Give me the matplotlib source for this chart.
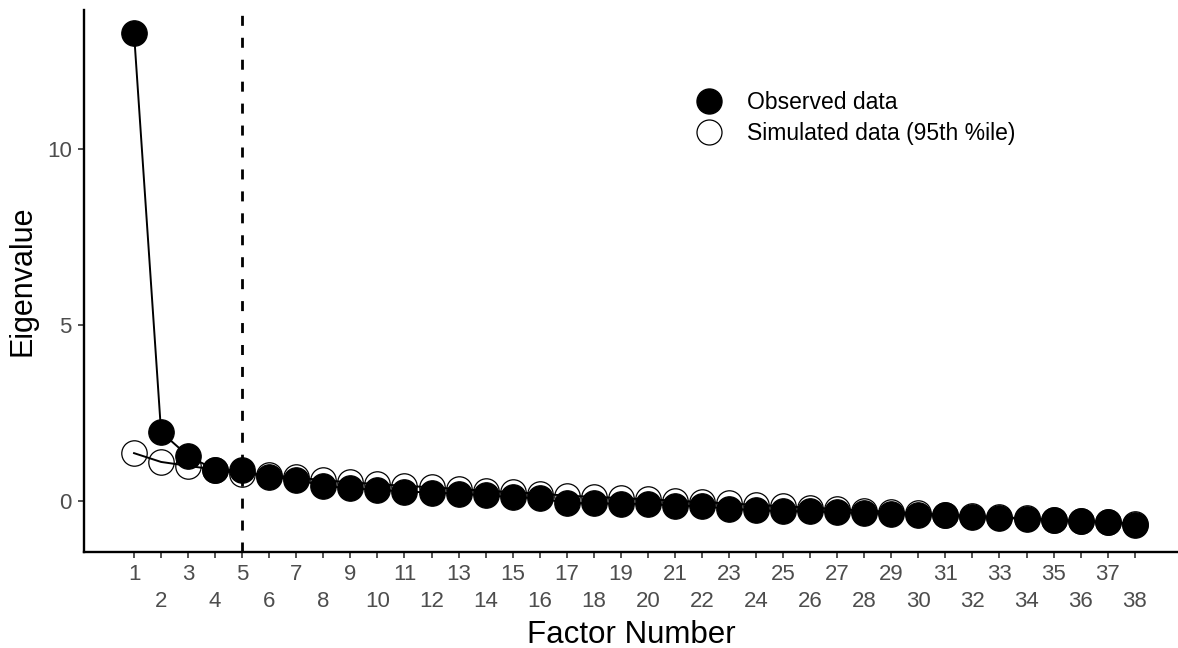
import matplotlib
matplotlib.use("Agg")
import matplotlib.pyplot as plt
from matplotlib.lines import Line2D

plt.rcParams['font.family'] = ['Liberation Sans', 'DejaVu Sans']

factors = list(range(1, 39))
observed = [13.28, 1.95, 1.27, 0.88, 0.86, 0.68, 0.60, 0.42, 0.35, 0.31,
            0.26, 0.23, 0.20, 0.15, 0.10, 0.07, -0.07, -0.07, -0.09, -0.09,
            -0.14, -0.16, -0.23, -0.27, -0.30, -0.30, -0.33, -0.35, -0.37, -0.40,
            -0.42, -0.46, -0.49, -0.52, -0.56, -0.58, -0.61, -0.68]
simulated = [1.35, 1.10, 0.99, 0.88, 0.76, 0.72, 0.66, 0.58, 0.52, 0.47,
             0.42, 0.38, 0.33, 0.28, 0.24, 0.20, 0.14, 0.11, 0.07, 0.04,
             0.00, -0.04, -0.08, -0.12, -0.16, -0.20, -0.24, -0.28, -0.32, -0.36,
             -0.40, -0.43, -0.47, -0.50, -0.54, -0.58, -0.61, -0.65]
cutoff = 5
y_ticks = [0, 5, 10]
legend_labels = ["Observed data", "Simulated data (95th %ile)"]

fig = plt.figure(figsize=(11.78, 6.48), dpi=100)
ax = fig.add_axes([84/1178, (648-551.7)/648, 1 - 84/1178, (551.7-10)/648])

ms = 18.3
ax.plot(factors, simulated, color='black', lw=1.4, zorder=2)
ax.plot(factors, simulated, linestyle='none', marker='o', ms=ms, mfc='none',
        mec='black', mew=0.9, zorder=3)
ax.plot(factors, observed, color='black', lw=1.4, zorder=4)
ax.plot(factors, observed, linestyle='none', marker='o', ms=ms, mfc='black',
        mec='black', mew=0.9, zorder=5)
ax.axvline(cutoff, color='black', linestyle=(0, (3.6, 4.3)), lw=2.0, zorder=1)

ax.set_xlim(-0.85, 39.6)
ax.set_ylim(-1.45, 13.94)

ax.set_xticks(factors)
ax.set_xticklabels([str(f) if f % 2 == 1 else "\n" + str(f) for f in factors],
                   linespacing=1.36)
ax.set_yticks(y_ticks)
ax.tick_params(axis='both', colors='#333333', labelcolor='#4D4D4D',
               labelsize=16, length=4.3, width=1.2, direction='out', pad=4.5)

for s in ['top', 'right']:
    ax.spines[s].set_visible(False)
for s in ['left', 'bottom']:
    ax.spines[s].set_linewidth(1.7)
    ax.spines[s].set_color('black')

ax.set_xlabel("Factor Number", fontsize=22.5, color='black', labelpad=6)
ax.set_ylabel("Eigenvalue", fontsize=22, color='black', labelpad=7)

handles = [Line2D([], [], linestyle='none', marker='o', ms=18, mfc='black', mec='black'),
           Line2D([], [], linestyle='none', marker='o', ms=18, mfc='white', mec='black', mew=0.9)]
fig.legend(handles, legend_labels, loc='center left',
           bbox_to_anchor=(697.5/1178, (648-118)/648), bbox_transform=fig.transFigure,
           frameon=False, fontsize=16.5, handlelength=1.0, handletextpad=1.16,
           labelspacing=0.36, borderpad=0, borderaxespad=0)

fig.savefig("out.png", dpi=100)
